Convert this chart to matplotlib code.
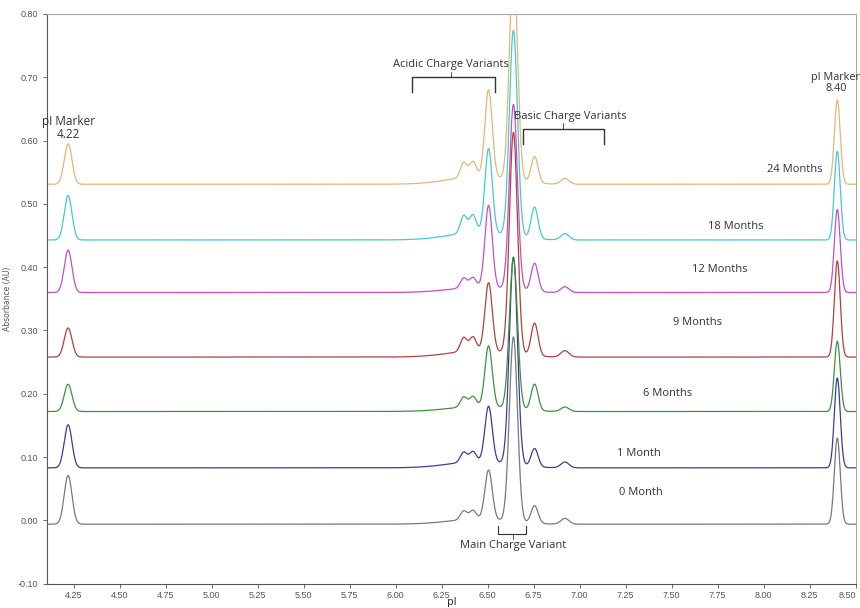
import matplotlib
matplotlib.use("Agg")
import matplotlib.pyplot as plt
import numpy as np

# sample names and trace colours
months = ["0 Month", "1 Month", "6 Months", "9 Months", "12 Months", "18 Months", "24 Months"]
colors = ["#7a7a7a", "#3c3c96", "#3f9140", "#b2403f", "#c24fc6", "#45c9d2", "#e5b678"]

# baseline level of each trace (AU)
baselines = [-0.006, 0.083, 0.172, 0.258, 0.360, 0.443, 0.531]

# peak heights above baseline
marker_422 = [0.077, 0.068, 0.043, 0.046, 0.067, 0.070, 0.064]
acidic_637 = [0.014, 0.016, 0.016, 0.022, 0.016, 0.028, 0.024]
acidic_642 = [0.014, 0.016, 0.016, 0.022, 0.016, 0.028, 0.024]
acidic_650 = [0.078, 0.088, 0.096, 0.108, 0.130, 0.133, 0.138]
main_664 = [0.292, 0.328, 0.238, 0.350, 0.293, 0.325, 0.340]
basic_676 = [0.028, 0.029, 0.042, 0.052, 0.045, 0.050, 0.042]
basic_692 = [0.009, 0.009, 0.007, 0.010, 0.009, 0.010, 0.009]
marker_840 = [0.136, 0.142, 0.111, 0.152, 0.131, 0.140, 0.133]
hump_645 = [0.008, 0.010, 0.008, 0.010, 0.008, 0.012, 0.012]

# peak positions (pI) and widths
peak_pi = [4.22, 6.37, 6.42, 6.505, 6.64, 6.755, 6.92, 8.40, 6.45]
peak_sigma = [0.021, 0.018, 0.018, 0.020, 0.022, 0.019, 0.022, 0.016, 0.16]

# where the month labels sit
label_pi = [7.33, 7.32, 7.48, 7.64, 7.76, 7.85, 8.17]
label_au = [0.044, 0.106, 0.200, 0.312, 0.397, 0.464, 0.554]

ink = "#333333"
fig = plt.figure(figsize=(8.6, 6.08), dpi=100)
ax = fig.add_axes([0.055, 0.040, 0.940, 0.937])

x = np.linspace(4.10, 8.50, 3000)
for i, name in enumerate(months):
    heights = [marker_422[i], acidic_637[i], acidic_642[i], acidic_650[i], main_664[i],
               basic_676[i], basic_692[i], marker_840[i], hump_645[i]]
    y = np.full_like(x, baselines[i])
    for c, h, s in zip(peak_pi, heights, peak_sigma):
        y += h * np.exp(-0.5 * ((x - c) / s) ** 2)
    ax.plot(x, y, color=colors[i], lw=0.9)
    ax.text(label_pi[i], label_au[i], name, ha="center", va="center",
            fontsize=8, color=ink, family="Open Sans")

ax.set_xlim(4.107, 8.50)
ax.set_ylim(-0.10, 0.80)
ax.set_xticks(np.arange(4.25, 8.51, 0.25))
ax.set_yticks(np.arange(-0.10, 0.81, 0.10))
ax.xaxis.set_major_formatter(matplotlib.ticker.FormatStrFormatter("%.2f"))
ax.yaxis.set_major_formatter(matplotlib.ticker.FormatStrFormatter("%.2f"))
ax.tick_params(labelsize=6.5, colors="#555555", length=3, width=0.6)
ax.tick_params(axis="x", pad=2)
for t in ax.get_xticklabels() + ax.get_yticklabels():
    t.set_family("Liberation Sans")
# last tick sits on the figure edge, keep it inside
ax.get_xticklabels()[-1].set_horizontalalignment("right")
for side in ["left", "bottom"]:
    ax.spines[side].set_color("#555555")
    ax.spines[side].set_linewidth(0.8)
for side in ["top", "right"]:
    ax.spines[side].set_color("#aaaaaa")
    ax.spines[side].set_linewidth(0.8)
ax.set_xlabel("pI", fontsize=7.5, color=ink)
ax.xaxis.set_label_coords(0.5, -0.024)
ax.set_ylabel("Absorbance (AU)", fontsize=5.5, color="#555555", labelpad=4)

# pI marker labels
ax.text(4.22, 0.600, "pI Marker\n4.22", ha="center", va="bottom", fontsize=8.5,
        color=ink, family="Open Sans", linespacing=0.95)
ax.text(8.392, 0.674, "pI Marker\n8.40", ha="center", va="bottom", fontsize=7.8,
        color=ink, family="Open Sans", linespacing=0.95)

# brackets for the charge variant groups
ax.plot([6.09, 6.09, 6.54, 6.54], [0.676, 0.700, 0.700, 0.676], color=ink, lw=1)
ax.plot([6.30, 6.30], [0.700, 0.708], color=ink, lw=0.6)
ax.text(6.30, 0.712, "Acidic Charge Variants", ha="center", va="bottom",
        fontsize=8, color=ink, family="Open Sans")

ax.plot([6.69, 6.69, 7.13, 7.13], [0.594, 0.619, 0.619, 0.594], color=ink, lw=1)
ax.plot([6.91, 6.91], [0.619, 0.627], color=ink, lw=0.6)
ax.text(6.95, 0.630, "Basic Charge Variants", ha="center", va="bottom",
        fontsize=8, color=ink, family="Open Sans")

ax.plot([6.555, 6.555, 6.71, 6.71], [-0.009, -0.022, -0.022, -0.009], color=ink, lw=0.8)
ax.plot([6.635, 6.635], [-0.022, -0.029], color=ink, lw=0.6)
ax.text(6.64, -0.031, "Main Charge Variant", ha="center", va="top",
        fontsize=8, color=ink, family="Open Sans")

fig.savefig("out.png", dpi=100)
